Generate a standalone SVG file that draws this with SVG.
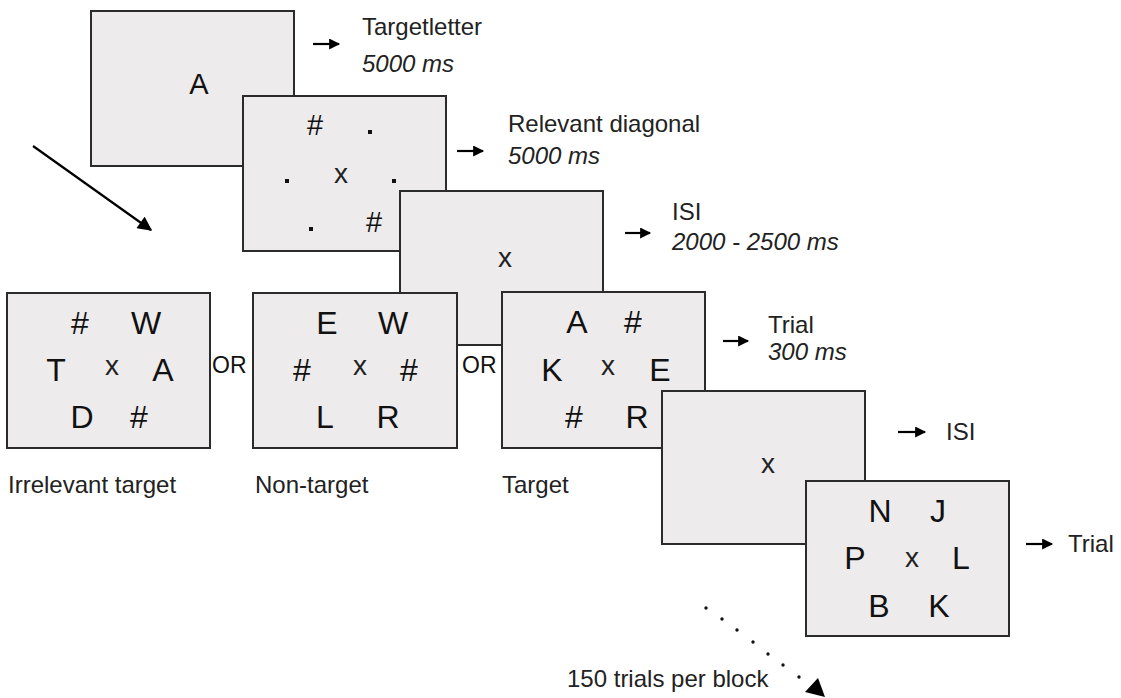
<svg xmlns="http://www.w3.org/2000/svg" width="1121" height="698" viewBox="0 0 1121 698">
<defs>
<style>
.box{fill:#EDEBEC;stroke:#2b2b2b;stroke-width:2}
.ch{font-family:"Liberation Sans",Arial,sans-serif;font-size:32px;fill:#111;text-anchor:middle}
.cs{font-family:"Liberation Sans",Arial,sans-serif;font-size:29px;fill:#111;text-anchor:middle}
.fx{font-family:"Liberation Sans",Arial,sans-serif;font-size:28px;fill:#222;text-anchor:middle}
.lb{font-family:"Liberation Sans",Arial,sans-serif;font-size:24px;fill:#222}
.it{font-style:italic}
.or{font-family:"Liberation Sans",Arial,sans-serif;font-size:23px;fill:#111}
.ar{stroke:#000;stroke-width:2.2;fill:none}
.dot{fill:#111}
</style>
<marker id="ah" viewBox="0 0 10 10" refX="9" refY="5" markerWidth="5.5" markerHeight="5" orient="auto" markerUnits="strokeWidth">
<path d="M0,0 L10,5 L0,10 z" fill="#000"/>
</marker>
<marker id="ahb" viewBox="0 0 10 10" refX="9" refY="5" markerWidth="7" markerHeight="6.5" orient="auto" markerUnits="strokeWidth">
<path d="M0,0 L10,5 L0,10 z" fill="#000"/>
</marker>
</defs>
<rect width="1121" height="698" fill="#fff"/>

<g id="box-targetletter">
<rect class="box" x="91" y="11" width="203" height="155"/>
<text class="cs" x="199" y="94">A</text>
</g>
<g id="box-diagonal">
<rect class="box" x="243" y="96" width="203" height="155"/>
<text class="cs" x="315" y="135">#</text>
<rect class="dot" x="368" y="130" width="4" height="4"/>
<rect class="dot" x="285" y="179" width="4" height="4"/>
<text class="fx" x="341" y="183">x</text>
<rect class="dot" x="392" y="179" width="4" height="4"/>
<rect class="dot" x="309" y="227" width="4" height="4"/>
<text class="cs" x="374" y="232">#</text>
</g>
<g id="box-isi1">
<rect class="box" x="400" y="191" width="203" height="154"/>
<text class="fx" x="505" y="267">x</text>
</g>
<g id="box-irrelevant">
<rect class="box" x="7" y="293" width="203" height="155"/>
<text class="ch" x="80" y="334">#</text>
<text class="ch" x="146" y="334">W</text>
<text class="ch" x="56" y="381">T</text>
<text class="fx" x="112" y="375">x</text>
<text class="ch" x="163" y="381">A</text>
<text class="ch" x="82" y="428">D</text>
<text class="ch" x="139" y="428">#</text>
</g>
<g id="box-nontarget">
<rect class="box" x="253" y="293" width="204" height="155"/>
<text class="ch" x="327" y="334">E</text>
<text class="ch" x="393" y="334">W</text>
<text class="ch" x="302" y="381">#</text>
<text class="fx" x="360" y="375">x</text>
<text class="ch" x="409" y="381">#</text>
<text class="ch" x="325" y="428">L</text>
<text class="ch" x="388" y="428">R</text>
</g>
<g id="box-target">
<rect class="box" x="502" y="292" width="203" height="156"/>
<text class="ch" x="577" y="333">A</text>
<text class="ch" x="633" y="333">#</text>
<text class="ch" x="552" y="381">K</text>
<text class="fx" x="608" y="375">x</text>
<text class="ch" x="660" y="381">E</text>
<text class="ch" x="574" y="428">#</text>
<text class="ch" x="637" y="428">R</text>
</g>
<g id="box-isi2">
<rect class="box" x="662" y="391" width="203" height="153"/>
<text class="fx" x="768" y="473">x</text>
</g>
<g id="box-trial2">
<rect class="box" x="806" y="481" width="203" height="155"/>
<text class="ch" x="880" y="522">N</text>
<text class="ch" x="938" y="522">J</text>
<text class="ch" x="855" y="569">P</text>
<text class="fx" x="912" y="567">x</text>
<text class="ch" x="961" y="569">L</text>
<text class="ch" x="879" y="617">B</text>
<text class="ch" x="939" y="617">K</text>
</g>

<g id="or-labels">
<text class="or" x="212" y="373">OR</text>
<text class="or" x="462" y="373">OR</text>
</g>

<g id="labels">
<text class="lb" x="362" y="35">Targetletter</text>
<text class="lb it" x="362" y="72">5000 ms</text>
<text class="lb" x="508" y="132">Relevant diagonal</text>
<text class="lb it" x="508" y="164">5000 ms</text>
<text class="lb" x="672" y="220">ISI</text>
<text class="lb it" x="672" y="250">2000 - 2500 ms</text>
<text class="lb" x="768" y="333">Trial</text>
<text class="lb it" x="768" y="360">300 ms</text>
<text class="lb" x="946" y="440">ISI</text>
<text class="lb" x="1068" y="552">Trial</text>
<text class="lb" x="8" y="493">Irrelevant target</text>
<text class="lb" x="255" y="493">Non-target</text>
<text class="lb" x="502" y="493">Target</text>
<text class="lb" x="567" y="687">150 trials per block</text>
</g>

<g id="connectors">
<line class="ar" x1="313" y1="44" x2="339" y2="44" marker-end="url(#ah)"/>
<line class="ar" x1="457" y1="151" x2="483" y2="151" marker-end="url(#ah)"/>
<line class="ar" x1="625" y1="233" x2="650" y2="233" marker-end="url(#ah)"/>
<line class="ar" x1="723" y1="341" x2="748" y2="341" marker-end="url(#ah)"/>
<line class="ar" x1="898" y1="432" x2="925" y2="432" marker-end="url(#ah)"/>
<line class="ar" x1="1026" y1="544" x2="1052" y2="544" marker-end="url(#ah)"/>
<line class="ar" x1="33" y1="146" x2="151" y2="230" marker-end="url(#ahb)"/>
<g class="dot">
<circle cx="706" cy="608" r="1.7"/>
<circle cx="722" cy="619" r="1.7"/>
<circle cx="737" cy="630" r="1.7"/>
<circle cx="753" cy="642" r="1.7"/>
<circle cx="768" cy="654" r="1.7"/>
<circle cx="783" cy="665" r="1.7"/>
<circle cx="799" cy="677" r="1.7"/>
</g>
<polygon points="805,692 818,678 825,697" fill="#000"/>
</g>
</svg>
